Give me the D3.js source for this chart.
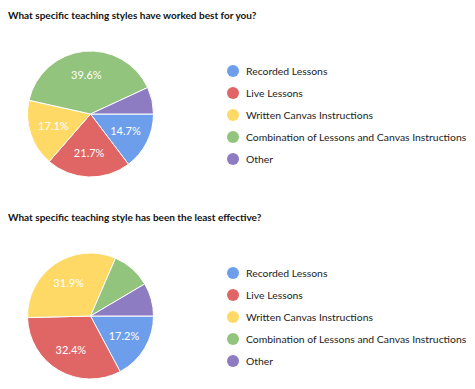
<!DOCTYPE html>
<html>
<head>
<meta charset="utf-8">
<script src="https://cdn.jsdelivr.net/npm/d3@7"></script>
<style>
  body { margin: 0; background: #fff; }
  svg { display: block; font-family: Lato, "Open Sans", sans-serif; }
</style>
</head>
<body>
<svg id="chart" width="475" height="389"></svg>
<script>
// Data
const categories = ["Recorded Lessons", "Live Lessons", "Written Canvas Instructions",
  "Combination of Lessons and Canvas Instructions", "Other"];
const colors = ["#6d9eeb", "#e06666", "#ffd966", "#93c47d", "#8e7cc3"];
const titles = ["What specific teaching styles have worked best for you?",
  "What specific teaching style has been the least effective?"];
const bestValues = [14.7, 21.7, 17.1, 39.6, 6.9];
const leastValues = [17.2, 32.4, 31.9, 10.0, 8.5];

const svg = d3.select("#chart");
const color = d3.scaleOrdinal().domain(categories).range(colors);

const radius = 63;
const pie = d3.pie().sort(null).value(d => d.value)
  .startAngle(Math.PI / 2).endAngle(Math.PI / 2 + 2 * Math.PI);
const arc = d3.arc().innerRadius(0).outerRadius(radius);
const labelArc = d3.arc().innerRadius(radius * 0.62).outerRadius(radius * 0.62);

function drawPanel(g, title, values) {
  const data = categories.map((c, i) => ({ name: c, value: values[i] }));

  g.append("text")
    .attr("x", 8)
    .attr("y", 19)
    .attr("font-size", 10)
    .attr("font-weight", "bold")
    .attr("fill", "#111")
    .text(title);

  const pieG = g.append("g").attr("transform", "translate(90.5,114)");
  const arcs = pie(data);

  pieG.selectAll("path")
    .data(arcs)
    .join("path")
    .attr("d", arc)
    .attr("fill", d => color(d.data.name))
    .attr("stroke", "#fff")
    .attr("stroke-width", 1);

  pieG.selectAll("text")
    .data(arcs.filter(d => d.data.value > 12))
    .join("text")
    .attr("transform", d => `translate(${labelArc.centroid(d)})`)
    .attr("text-anchor", "middle")
    .attr("dy", "0.35em")
    .attr("font-size", 11)
    .attr("fill", "#fff")
    .text(d => d.data.value.toFixed(1) + "%");

  // Legend
  const legend = g.append("g").attr("transform", "translate(233,71)");
  const item = legend.selectAll("g")
    .data(categories)
    .join("g")
    .attr("transform", (d, i) => `translate(0,${i * 22})`);
  item.append("circle")
    .attr("r", 6)
    .attr("fill", d => color(d));
  item.append("text")
    .attr("x", 13)
    .attr("dy", "0.35em")
    .attr("font-size", 10.4)
    .attr("fill", "#222")
    .text(d => d);
}

drawPanel(svg.append("g"), titles[0], bestValues);
drawPanel(svg.append("g").attr("transform", "translate(0,202)"), titles[1], leastValues);
</script>
</body>
</html>
